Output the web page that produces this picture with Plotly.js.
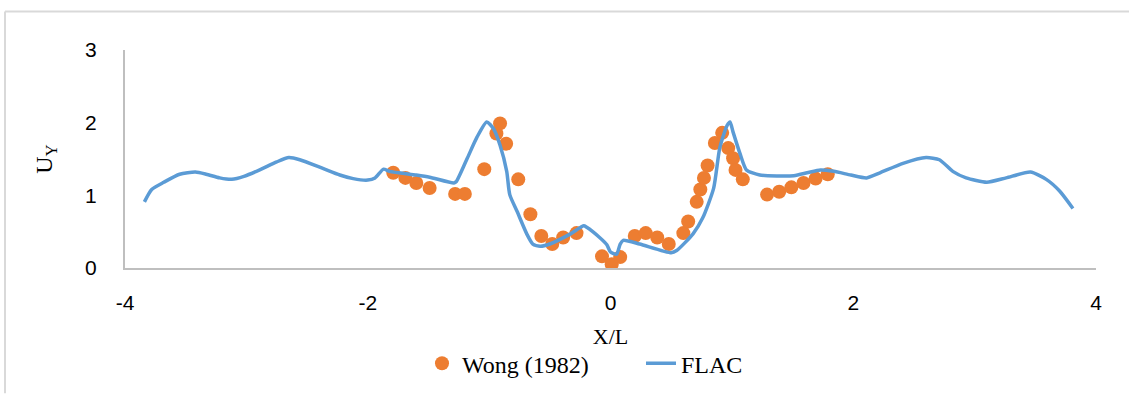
<!DOCTYPE html>
<html>
<head>
<meta charset="utf-8">
<script src="https://cdn.plot.ly/plotly-3.0.1.min.js"></script>
<style>html,body{margin:0;padding:0;background:#fff;}#chart{width:1129px;height:398px;}</style>
</head>
<body>
<div id="chart"></div>
<script>
// FLAC series
const flacX = [-3.84,-3.78,-3.68,-3.55,-3.42,-3.33,-3.22,-3.12,-3.02,-2.89,-2.75,-2.65,-2.56,-2.37,-2.23,-2.12,-2.00,-1.94,-1.87,-1.82,-1.60,-1.49,-1.29,-1.27,-1.18,-1.10,-1.02,-0.965,-0.91,-0.855,-0.83,-0.77,-0.69,-0.64,-0.58,-0.50,-0.33,-0.22,-0.196,-0.09,-0.03,0.00,0.05,0.08,0.105,0.24,0.50,0.545,0.68,0.76,0.85,0.90,0.96,0.985,1.01,1.07,1.12,1.23,1.51,1.62,1.73,1.84,1.98,2.11,2.22,2.41,2.60,2.71,2.82,2.93,3.10,3.26,3.46,3.59,3.70,3.81];
const flacY = [0.91,1.08,1.18,1.29,1.32,1.29,1.24,1.22,1.26,1.35,1.46,1.52,1.49,1.37,1.28,1.23,1.21,1.24,1.36,1.33,1.28,1.25,1.17,1.19,1.51,1.80,2.01,1.92,1.69,1.33,1.01,0.78,0.47,0.33,0.30,0.33,0.47,0.58,0.56,0.42,0.32,0.22,0.19,0.33,0.38,0.33,0.21,0.24,0.47,0.69,1.10,1.65,1.96,2.01,1.87,1.56,1.35,1.28,1.27,1.31,1.35,1.33,1.28,1.24,1.31,1.44,1.52,1.49,1.33,1.24,1.18,1.24,1.32,1.22,1.06,0.82];
// Wong (1982) series
const wongX = [-1.79,-1.69,-1.60,-1.49,-1.28,-1.20,-1.04,-0.94,-0.91,-0.86,-0.76,-0.66,-0.57,-0.48,-0.39,-0.28,-0.07,0.01,0.08,0.20,0.29,0.385,0.48,0.60,0.64,0.71,0.74,0.77,0.80,0.86,0.92,0.97,1.01,1.03,1.09,1.29,1.39,1.49,1.59,1.69,1.79];
const wongY = [1.31,1.24,1.17,1.10,1.02,1.02,1.36,1.85,1.99,1.71,1.22,0.74,0.44,0.33,0.42,0.48,0.16,0.05,0.15,0.44,0.48,0.42,0.33,0.48,0.64,0.91,1.08,1.24,1.41,1.72,1.86,1.65,1.51,1.35,1.22,1.01,1.05,1.11,1.17,1.23,1.29];
const xTicks = [-4,-2,0,2,4];
const yTicks = [0,1,2,3];

const L=125, R=1096, T=50, B=271, W=1129, H=398;
const px = v => (v - L)/(R - L);
const py = v => (B - v)/(B - T);

const traces = [
  {x: wongX, y: wongY, name: 'Wong (1982)', type: 'scatter', mode: 'markers',
   marker: {color: '#ED7D31', size: 14}},
  {x: flacX, y: flacY, name: 'FLAC', type: 'scatter', mode: 'lines',
   line: {color: '#5B9BD5', width: 3.5, shape: 'spline', smoothing: 0.6}}
];

const layout = {
  width: W, height: H,
  margin: {l: L, r: W - R, t: T, b: H - B, pad: 0},
  paper_bgcolor: '#fff', plot_bgcolor: '#fff',
  showlegend: true,
  xaxis: {range: [-4, 4], tickvals: xTicks, ticktext: xTicks.map(String),
    showgrid: false, zeroline: false, showline: true, linecolor: '#bfbfbf', linewidth: 2,
    ticks: '', ticklabelstandoff: 15,
    tickfont: {family: 'Liberation Sans, Arial, sans-serif', size: 21, color: '#000'},
    title: {text: 'X/L', font: {family: 'Liberation Serif, Times New Roman, serif', size: 22, color: '#000'}, standoff: 15}},
  yaxis: {range: [0, 3], tickvals: yTicks, ticktext: yTicks.map(String),
    showgrid: false, zeroline: false, showline: true, linecolor: '#bfbfbf', linewidth: 2,
    ticks: '', ticklabelstandoff: 22,
    tickfont: {family: 'Liberation Sans, Arial, sans-serif', size: 21, color: '#000'},
    title: {text: 'U<sub>Y</sub>', font: {family: 'Liberation Serif, Times New Roman, serif', size: 24, color: '#000'}, standoff: 26}},
  legend: {orientation: 'h', x: px(422), xanchor: 'left', y: py(368), yanchor: 'middle',
    font: {family: 'Liberation Serif, Times New Roman, serif', size: 24, color: '#000'},
    bgcolor: 'rgba(0,0,0,0)', entrywidth: 174, entrywidthmode: 'pixels', tracegroupgap: 0},
  shapes: [
    {type: 'line', xref: 'paper', yref: 'paper', x0: px(5), x1: px(5), y0: py(11), y1: py(398), line: {color: '#d9d9d9', width: 2}},
    {type: 'line', xref: 'paper', yref: 'paper', x0: px(5), x1: px(1129), y0: py(11), y1: py(11), line: {color: '#d9d9d9', width: 2}}
  ]
};

Plotly.newPlot('chart', traces, layout, {displayModeBar: false, staticPlot: true});
</script>
</body>
</html>
